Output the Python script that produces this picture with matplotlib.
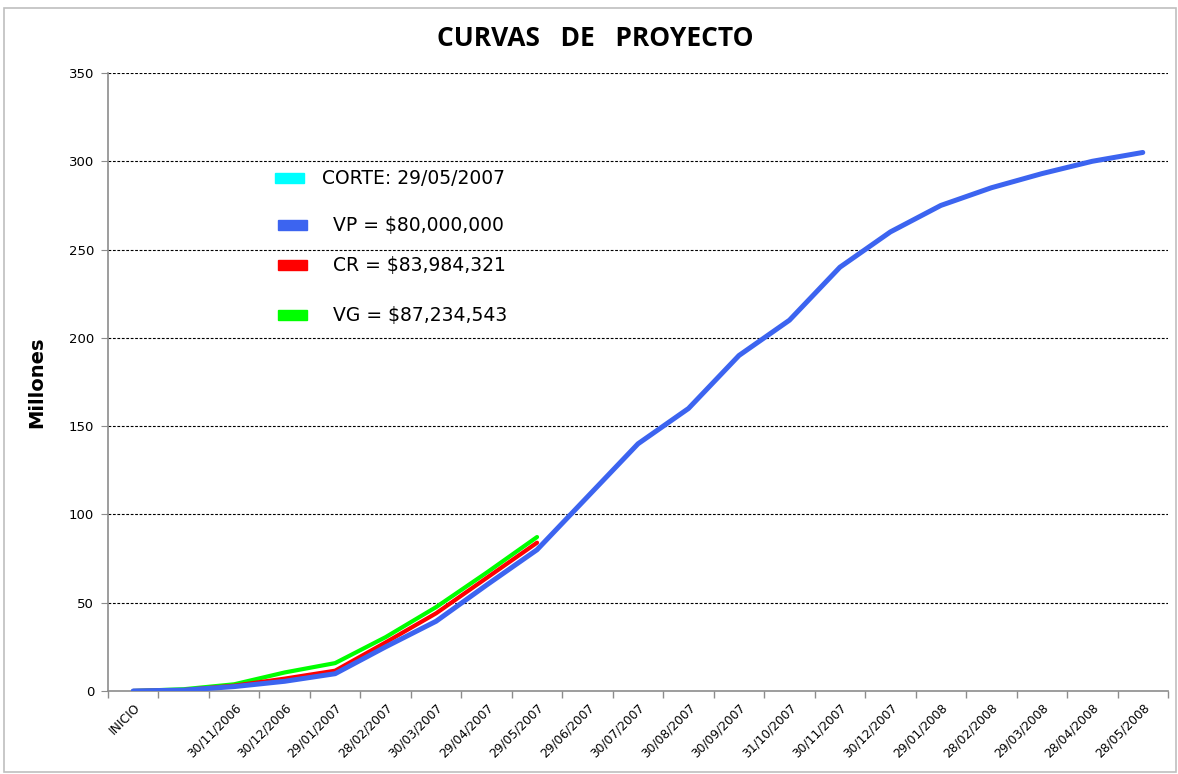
import numpy as np
import matplotlib
matplotlib.use("Agg")
import matplotlib.pyplot as plt
from matplotlib.patches import Rectangle

# categorias del eje x (la segunda no tiene etiqueta)
fechas = ["INICIO", "", "30/11/2006", "30/12/2006", "29/01/2007", "28/02/2007",
          "30/03/2007", "29/04/2007", "29/05/2007", "29/06/2007", "30/07/2007",
          "30/08/2007", "30/09/2007", "31/10/2007", "30/11/2007", "30/12/2007",
          "29/01/2008", "28/02/2008", "29/03/2008", "28/04/2008", "28/05/2008"]

# valores en millones
vp = [0, 0.5, 2.5, 5.5, 9.8, 25, 39.5, 60, 80, 110, 140, 160, 190, 210, 240,
      260, 275, 285, 293, 300, 305]
cr = [0, 0.5, 3, 7, 11.5, 27.5, 44, 64, 84]
vg = [0, 1, 3.8, 10.5, 15.8, 30.5, 47.5, 67, 87.2]

leyenda = ["CORTE: 29/05/2007", "VP = $80,000,000", "CR = $83,984,321", "VG = $87,234,543"]
col_ley = ["#00FFFF", "#3C64F0", "#FF0000", "#00FF00"]

W, H = 1178, 774
fig = plt.figure(figsize=(W / 100, H / 100), dpi=100)
ax = fig.add_axes([108 / W, 1 - 691 / H, (1168 - 108) / W, (691 - 73) / H])

x = np.arange(len(fechas))
ax.plot(x[:len(vg)], vg, color="#00FF00", lw=3.0, solid_capstyle="round", zorder=3)
ax.plot(x[:len(cr)], cr, color="#FF0000", lw=3.0, solid_capstyle="round", zorder=4)
ax.plot(x, vp, color="#3C64F0", lw=3.6, solid_capstyle="round", zorder=5)

ax.set_xlim(-0.5, len(fechas) - 0.5)
ax.set_ylim(0, 350)
ax.set_yticks(np.arange(0, 351, 50))
for v in np.arange(50, 351, 50):
    ax.axhline(v, color="black", lw=0.8, ls=(0, (2.5, 1.5)), zorder=1)

# ticks en los limites de categoria, etiquetas en el centro
ax.set_xticks(np.arange(-0.5, len(fechas)), labels=[])
ax.set_xticks(x, labels=fechas, minor=True)
ax.tick_params(axis="x", which="major", length=5, color="#8c8c8c", width=1)
ax.tick_params(axis="x", which="minor", length=0, pad=7)
for lab in ax.get_xticklabels(minor=True):
    lab.set_rotation(45)
    lab.set_ha("right")
    lab.set_va("top")
    lab.set_rotation_mode("anchor")
    lab.set_fontsize(8.8)
ax.tick_params(axis="y", length=5, color="#8c8c8c", labelsize=9.5, pad=5)

for s in ["top", "right"]:
    ax.spines[s].set_visible(False)
for s in ["left", "bottom"]:
    ax.spines[s].set_color("#8c8c8c")
    ax.spines[s].set_linewidth(1.2)

ax.set_ylabel("Millones", fontsize=14, fontweight="bold", labelpad=16)
fig.text(595 / W, 1 - 38 / H, "CURVAS   DE   PROYECTO", ha="center", va="center",
         fontsize=19, fontweight="bold", family="Open Sans")

# leyenda manual
ley_y = [178, 225, 265, 315]
ley_px = [275, 278, 278, 278]
ley_tx = [322, 333, 333, 333]
for i in range(len(leyenda)):
    fig.patches.append(Rectangle((ley_px[i] / W, 1 - (ley_y[i] + 5) / H), 29 / W, 10 / H,
                                 transform=fig.transFigure, color=col_ley[i]))
    fig.text(ley_tx[i] / W, 1 - ley_y[i] / H, leyenda[i], ha="left", va="center",
             fontsize=13.5)

# marco del grafico
fig.patches.append(Rectangle((4 / W, 2 / H), (W - 6) / W, (H - 10) / H, transform=fig.transFigure,
                             fill=False, edgecolor="#bfbfbf", lw=1.2))

fig.savefig("out.png", dpi=100)
